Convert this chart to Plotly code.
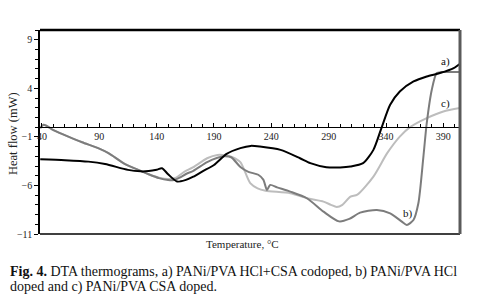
import plotly.graph_objects as go

# ---- data ----
a_temp = [38.5, 60, 80.5, 95, 115, 126, 133, 140, 144.7, 150, 157.8, 165, 172, 180, 190, 201, 213, 222, 230,
          248, 265, 274, 288, 300, 309, 320, 329, 336, 343.6, 352, 364, 375.5, 387, 399, 404.5]
a_val = [-3.3, -3.4, -3.55, -3.8, -4.4, -4.55, -4.52, -4.38, -4.23, -4.85, -5.6, -5.45, -5.1, -4.55, -3.9,
         -2.75, -2.16, -1.93, -2.0, -2.34, -3.2, -3.7, -4.12, -4.15, -4.06, -3.71, -2.34, -0.1, 2.3, 3.67,
         4.7, 5.22, 5.57, 6.08, 6.53]

b_temp = [38.5, 41.5, 50, 63, 75, 89, 98, 112.5, 124, 133, 142, 150, 155, 160, 166, 172, 184, 193, 199, 205,
          213, 220, 228.6, 233, 236.2, 239, 245, 256.5, 271, 285.5, 299, 308, 317.4, 332, 343.6, 353.8, 358.1,
          363.9, 368.2, 372.6, 375.5, 379.9, 384.2, 388.6, 404.5]
b_val = [-0.1, 0.25, -0.3, -0.97, -1.55, -2.16, -2.68, -3.81, -4.4, -4.85, -5.25, -5.45, -5.45, -5.2, -4.8,
         -4.5, -3.6, -3.15, -3.0, -3.1, -4.1, -4.6, -4.9, -5.4, -6.46, -5.95, -6.2, -6.64, -7.32, -8.70, -9.7,
         -9.45, -8.80, -8.53, -8.87, -9.73, -10.07, -9.56, -7.84, -3.03, 0.41, 3.85, 5.57, 5.67, 5.67]

c_temp = [38.5, 41.5, 50, 63, 75, 89, 98, 112.5, 124, 133, 142, 150, 157, 164, 172, 184, 193, 200, 206, 213,
          221.6, 228, 235, 256.5, 271, 285.5, 292, 297, 302, 309, 315, 329, 341, 352, 361, 375.5, 390, 404.5]
c_val = [-0.1, 0.25, -0.3, -0.97, -1.55, -2.16, -2.68, -3.81, -4.4, -4.85, -5.2, -5.35, -5.2, -4.6, -4.12,
         -3.2, -2.86, -2.9, -3.1, -3.6, -5.77, -6.3, -6.54, -6.80, -7.32, -7.67, -8.0, -8.22, -8.0, -7.15,
         -6.95, -5.09, -2.68, -0.97, 0.0, 0.93, 1.61, 1.96]

series_labels = ["a)", "b)", "c)"]
label_pos_temp = [391.5, 359.5, 391.5]
label_pos_val = [6.76, -8.87, 2.47]

y_ticks = [-11, -6, -1, 4, 9]
x_ticks = [40, 90, 140, 190, 240, 290, 340, 390]

x_title = "Temperature, °C"
y_title = "Heat flow (mW)"
caption1 = "<b>Fig. 4.</b> DTA thermograms, a) PANi/PVA HCl+CSA codoped, b) PANi/PVA HCl"
caption2 = "doped and c) PANi/PVA CSA doped."

FONT = "Liberation Serif, Times New Roman, serif"
X_RANGE = [38.3, 404.5]
Y_RANGE = [-11, 10]

fig = go.Figure()
for xs, ys, col, w in [(c_temp, c_val, "#bdbdbd", 2.0), (b_temp, b_val, "#7c7c7c", 2.0),
                       (a_temp, a_val, "#000000", 2.0)]:
    fig.add_trace(go.Scatter(x=xs, y=ys, mode="lines",
                             line=dict(color=col, width=w, shape="spline", smoothing=0.7),
                             showlegend=False, hoverinfo="skip"))

for lab, tx, ty in zip(series_labels, label_pos_temp, label_pos_val):
    fig.add_annotation(x=tx, y=ty, text=lab, showarrow=False,
                       font=dict(family=FONT, size=11, color="#111"))

x_axis_pos = (0 - Y_RANGE[0]) / (Y_RANGE[1] - Y_RANGE[0])

fig.update_layout(
    width=480, height=302,
    margin=dict(l=40, r=20, t=30, b=68),
    paper_bgcolor="white", plot_bgcolor="white",
    font=dict(family=FONT, size=10, color="#222"),
    xaxis=dict(range=X_RANGE, tickmode="array", tickvals=x_ticks,
               ticks="inside", ticklen=4, tickcolor="black",
               minor=dict(dtick=10, tick0=40, ticks="inside", ticklen=3, tickcolor="black"),
               showgrid=False, zeroline=False, showline=True, linecolor="black", linewidth=1,
               anchor="free", position=x_axis_pos,
               tickfont=dict(family=FONT, size=10, color="#222")),
    yaxis=dict(range=Y_RANGE, tickmode="array", tickvals=y_ticks,
               ticks="outside", ticklen=4, tickcolor="black",
               minor=dict(dtick=1, tick0=-11, ticks="outside", ticklen=3, tickcolor="black"),
               showgrid=False, zeroline=False, showline=True, linecolor="black", linewidth=1.5,
               tickfont=dict(family=FONT, size=10, color="#222")),
)

# frame
fig.add_shape(type="line", xref="paper", yref="paper", x0=0, x1=1, y0=1, y1=1,
              line=dict(color="black", width=2.5))
fig.add_shape(type="line", xref="paper", yref="paper", x0=0, x1=1, y0=0, y1=0,
              line=dict(color="black", width=1.5))
fig.add_shape(type="line", xref="paper", yref="paper", x0=1, x1=1, y0=0, y1=1,
              line=dict(color="#5a5a5a", width=3))

# titles and caption (paper coords relative to plot area)
def px_to_paper(px, py):
    return (px - 40) / 420, (234 - py) / 204

tx, ty = px_to_paper(13, 134)
fig.add_annotation(x=tx, y=ty, xref="paper", yref="paper", text=y_title, textangle=-90,
                   xanchor="center", yanchor="middle",
                   showarrow=False, font=dict(family=FONT, size=12.5, color="#222"))
tx, ty = px_to_paper(242, 244)
fig.add_annotation(x=tx, y=ty, xref="paper", yref="paper", text=x_title,
                   xanchor="center", yanchor="middle",
                   showarrow=False, font=dict(family=FONT, size=11, color="#222"))
tx, ty = px_to_paper(8, 272)
fig.add_annotation(x=tx, y=ty, xref="paper", yref="paper", text=caption1, xanchor="left",
                   yanchor="middle",
                   showarrow=False, font=dict(family=FONT, size=14, color="#111"))
tx, ty = px_to_paper(8, 287)
fig.add_annotation(x=tx, y=ty, xref="paper", yref="paper", text=caption2, xanchor="left",
                   yanchor="middle",
                   showarrow=False, font=dict(family=FONT, size=14, color="#111"))

fig.write_html("out.html", config={"displayModeBar": False},
               post_script="document.body.style.margin='0px';")
